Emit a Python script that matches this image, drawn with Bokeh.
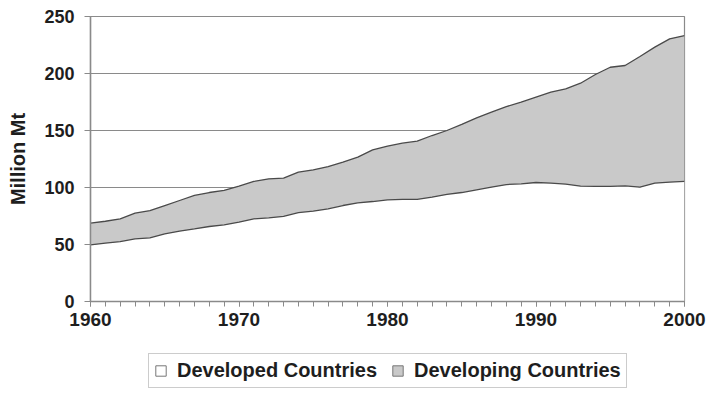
from bokeh.plotting import figure
from bokeh.layouts import column
from bokeh.models import ColumnDataSource, Legend, LegendItem, SingleIntervalTicker, Range1d
from bokeh.embed import file_html
from bokeh.resources import INLINE

years = list(range(1960, 2001))
developed = [49.7, 51.2, 52.6, 55.0, 55.8, 59.4, 61.7, 63.7, 65.8, 67.3,
             69.6, 72.5, 73.4, 74.6, 78.0, 79.2, 81.3, 84.2, 86.6, 87.7,
             89.2, 89.5, 89.5, 91.5, 93.9, 95.6, 98.0, 100.3, 102.6, 103.2,
             104.4, 103.8, 102.9, 101.2, 100.9, 100.9, 101.5, 100.3, 103.8, 104.7,
             105.3]
developing = [19.0, 19.2, 19.9, 22.5, 24.0, 24.8, 26.9, 29.3, 29.8, 30.1,
              31.6, 32.8, 34.2, 33.6, 35.4, 36.3, 37.1, 38.0, 40.0, 45.3,
              47.1, 49.4, 51.1, 54.1, 56.1, 59.7, 63.1, 65.8, 68.4, 71.6,
              74.8, 79.8, 83.7, 90.3, 98.2, 104.6, 105.5, 114.6, 119.3, 125.7,
              128.0]
series_names = ["Developed Countries", "Developing Countries"]
y_ticks = [0, 50, 100, 150, 200, 250]

total = [a + b for a, b in zip(developed, developing)]
src = ColumnDataSource(dict(year=years, developed=developed, developing=developing, total=total))

FONT = "Liberation Sans"
GRID = "#8a8a8a"
TXT = "#1e1e1e"
FILL2 = "#c9c9c9"
NAN = float("nan")

p = figure(frame_width=594, frame_height=285, output_backend="svg", toolbar_location=None,
           x_range=Range1d(1960, 2000), y_range=Range1d(0, 250),
           min_border_left=90, min_border_right=22, min_border_top=16, min_border_bottom=40)

p.varea_stack(["developed", "developing"], x="year", source=src,
              color=["white", FILL2])
p.line("year", "developed", source=src, line_color="#4a4a4a", line_width=1.3)
p.line("year", "total", source=src, line_color="#4a4a4a", line_width=1.3)

# grid
p.xgrid.grid_line_color = None
p.ygrid.grid_line_color = GRID
p.ygrid.grid_line_width = 1.2
p.ygrid.ticker = y_ticks
p.outline_line_color = GRID
p.outline_line_width = 1.2

# x axis
p.xaxis.ticker = SingleIntervalTicker(interval=10, num_minor_ticks=10)
p.xaxis.axis_line_color = GRID
p.xaxis.axis_line_width = 1.5
p.xaxis.major_tick_line_color = GRID
p.xaxis.minor_tick_line_color = GRID
p.xaxis.major_tick_out = 5
p.xaxis.major_tick_in = 0
p.xaxis.minor_tick_out = 5
p.xaxis.minor_tick_in = 0
p.xaxis.major_label_text_font = FONT
p.xaxis.major_label_text_font_style = "bold"
p.xaxis.major_label_text_font_size = "19px"
p.xaxis.major_label_text_color = TXT
p.xaxis.major_label_standoff = 6

# y axis
p.yaxis.ticker = y_ticks
p.yaxis.axis_line_color = GRID
p.yaxis.axis_line_width = 1.5
p.yaxis.major_tick_line_color = GRID
p.yaxis.major_tick_out = 6
p.yaxis.major_tick_in = 0
p.yaxis.minor_tick_line_color = None
p.yaxis.major_label_text_font = FONT
p.yaxis.major_label_text_font_style = "bold"
p.yaxis.major_label_text_font_size = "18px"
p.yaxis.major_label_text_color = TXT
p.yaxis.major_label_standoff = 10
p.yaxis.axis_label = "Million Mt"
p.yaxis.axis_label_text_font = FONT
p.yaxis.axis_label_text_font_style = "bold"
p.yaxis.axis_label_text_font_size = "20px"
p.yaxis.axis_label_text_color = TXT
p.yaxis.axis_label_standoff = 12

# legend strip below the chart
leg = figure(width=706, height=60, output_backend="svg", toolbar_location=None,
             x_range=Range1d(0, 1), y_range=Range1d(0, 1), min_border=0,
             x_axis_location=None, y_axis_location=None)
leg.grid.grid_line_color = None
leg.outline_line_color = None
r1 = leg.quad(left=[NAN], right=[NAN], top=[NAN], bottom=[NAN], fill_color="white", line_color="#777777")
r2 = leg.quad(left=[NAN], right=[NAN], top=[NAN], bottom=[NAN], fill_color=FILL2, line_color="#777777")
legend = Legend(items=[LegendItem(label=series_names[0], renderers=[r1]),
                       LegendItem(label=series_names[1], renderers=[r2])],
                orientation="horizontal", location=(58, 13),
                label_text_font=FONT, label_text_font_style="bold",
                label_text_font_size="20px", label_text_color=TXT,
                glyph_width=13, glyph_height=13, label_standoff=10, spacing=14,
                padding=5, margin=0, label_height=20,
                border_line_color="#999999", border_line_width=1.5,
                background_fill_color="white")
leg.add_layout(legend, "center")

layout = column(p, leg, spacing=0)
open("out.html", "w").write(file_html(layout, INLINE))
